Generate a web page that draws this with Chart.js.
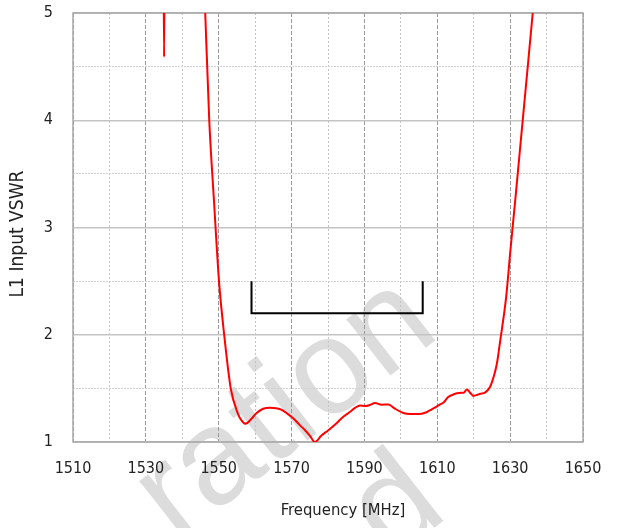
<!DOCTYPE html>
<html>
<head>
<meta charset="utf-8">
<script src="https://cdn.jsdelivr.net/npm/chart.js@4/dist/chart.umd.min.js"></script>
<style>
  body { margin: 0; background: #fff; }
</style>
</head>
<body>
<canvas id="vswrChart" width="617" height="528"></canvas>
<script>
// measured L1 input VSWR (values above 5 run off the top of the plot)
const freqs = [1534.85, 1535.0, 1535.15, 1545.7, 1546.3, 1547.4, 1548.7, 1550.1, 1551.5, 1553.3,
    1555.2, 1556.3, 1557.4, 1558.8, 1560.4, 1562.2, 1564.1, 1565.8, 1567.3, 1569.0,
    1570.5, 1572.2, 1573.7, 1575.0, 1576.4, 1578.2, 1580.1, 1582.2, 1584.2, 1586.0,
    1587.5, 1588.8, 1590.2, 1591.5, 1592.9, 1594.7, 1596.6, 1598.4, 1600.7, 1602.5,
    1604.0, 1605.7, 1607.2, 1608.5, 1609.8, 1610.8, 1611.8, 1613.0, 1614.2, 1615.4,
    1616.7, 1617.3, 1618.1, 1619.0, 1619.9, 1621.0, 1621.8, 1623.1, 1624.5, 1625.4,
    1626.3, 1627.3, 1628.9, 1630.0, 1631.4, 1632.6, 1633.7, 1635.0, 1636.2, 1637.0];
const vswr = [5.6, 4.59, 5.6, 5.6, 5.0, 4.0, 3.25, 2.49, 2.0, 1.5,
    1.27, 1.2, 1.17, 1.21, 1.27, 1.31, 1.32, 1.315, 1.30, 1.26,
    1.22, 1.16, 1.11, 1.06, 1.0, 1.06, 1.11, 1.17, 1.236, 1.28,
    1.32, 1.34, 1.335, 1.345, 1.363, 1.348, 1.35, 1.31, 1.27, 1.26,
    1.26, 1.264, 1.28, 1.305, 1.33, 1.35, 1.37, 1.42, 1.44, 1.455,
    1.46, 1.46, 1.49, 1.46, 1.43, 1.44, 1.45, 1.46, 1.515, 1.6,
    1.72, 1.95, 2.35, 2.76, 3.255, 3.69, 4.09, 4.56, 5.0, 5.3];

// spec limit bracket
const limitFreqs = [1559, 1559, 1606, 1606];
const limitVswr = [2.5, 2.2, 2.2, 2.5];

const xTickLabels = [1510, 1530, 1550, 1570, 1590, 1610, 1630, 1650];
const yTickLabels = [1, 2, 3, 4, 5];

const xTitle = 'Frequency [MHz]';
const yTitle = 'L1 Input VSWR';
const watermarkLines = ['ration', 'd'];

const font = '"DejaVu Sans Condensed", "Liberation Sans", sans-serif';

// faint diagonal watermark behind everything
const watermark = {
    id: 'watermark',
    beforeDraw(chart) {
        const ctx = chart.ctx;
        ctx.save();
        ctx.translate(176, 543);
        ctx.rotate(-38 * Math.PI / 180);
        ctx.fillStyle = '#dcdcdc';
        ctx.font = '135px "Liberation Sans"';
        ctx.textBaseline = 'alphabetic';
        ctx.fillText(watermarkLines[0], 0, 0);
        ctx.fillText(watermarkLines[1], 158, 147);
        ctx.restore();
    }
};

// grey frame round the plot
const frame = {
    id: 'frame',
    beforeDatasetsDraw(chart) {
        const {ctx, chartArea: a} = chart;
        ctx.save();
        ctx.strokeStyle = '#a8a8a8';
        ctx.lineWidth = 1.5;
        ctx.strokeRect(a.left, a.top, a.right - a.left, a.bottom - a.top);
        ctx.restore();
    }
};

// axis titles sit a bit off-centre in the original, so draw them here
const axisTitles = {
    id: 'axisTitles',
    afterDraw(chart) {
        const ctx = chart.ctx;
        ctx.save();
        ctx.fillStyle = '#222';
        ctx.textAlign = 'center';
        ctx.textBaseline = 'middle';
        ctx.font = '16.5px ' + font;
        ctx.fillText(xTitle, 343, 511);
        ctx.translate(18, 234);
        ctx.rotate(-Math.PI / 2);
        ctx.font = '19px ' + font;
        ctx.fillText(yTitle, 0, 0);
        ctx.restore();
    }
};

const ctx = document.getElementById('vswrChart').getContext('2d');
new Chart(ctx, {
    type: 'scatter',
    data: {
        datasets: [{
            data: freqs.map((f, i) => ({x: f, y: vswr[i]})),
            showLine: true,
            borderColor: '#ff0000',
            borderWidth: 2,
            pointRadius: 0,
            cubicInterpolationMode: 'monotone'
        }, {
            data: limitFreqs.map((f, i) => ({x: f, y: limitVswr[i]})),
            showLine: true,
            borderColor: '#000000',
            borderWidth: 2,
            pointRadius: 0,
            tension: 0
        }]
    },
    options: {
        responsive: false,
        animation: false,
        layout: { padding: { top: 13, right: 34, left: 0, bottom: 0 } },
        plugins: { legend: { display: false }, tooltip: { enabled: false } },
        scales: {
            x: {
                type: 'linear',
                min: 1510,
                max: 1650,
                afterFit(scale) {
                    scale.height = 86;
                    scale.paddingLeft = 0;
                    scale.paddingRight = 0;
                },
                ticks: {
                    stepSize: 10,
                    autoSkip: false,
                    maxRotation: 0,
                    padding: 17,
                    color: '#222',
                    font: { family: font, size: 16 },
                    callback: v => xTickLabels.includes(v) ? String(v) : ''
                },
                grid: {
                    drawTicks: false,
                    lineWidth: 1,
                    color: c => xTickLabels.includes(c.tick && c.tick.value) ? '#9a9a9a' : '#c4c4c4'
                },
                border: {
                    display: false,
                    dash: c => xTickLabels.includes(c.tick && c.tick.value) ? [4, 2] : [2, 2]
                }
            },
            y: {
                min: 1,
                max: 5,
                afterFit(scale) {
                    scale.width = 73;
                    scale.paddingTop = 0;
                    scale.paddingBottom = 0;
                },
                ticks: {
                    stepSize: 0.5,
                    padding: 20,
                    color: '#222',
                    font: { family: font, size: 16 },
                    callback: v => yTickLabels.includes(v) ? String(v) : ''
                },
                grid: {
                    drawTicks: false,
                    lineWidth: c => yTickLabels.includes(c.tick && c.tick.value) ? 1.5 : 1,
                    color: c => yTickLabels.includes(c.tick && c.tick.value) ? '#c4c4c4' : '#d2d2d2'
                },
                border: {
                    display: false,
                    dash: c => yTickLabels.includes(c.tick && c.tick.value) ? [] : [2, 1]
                }
            }
        }
    },
    plugins: [watermark, frame, axisTitles]
});
</script>
</body>
</html>
